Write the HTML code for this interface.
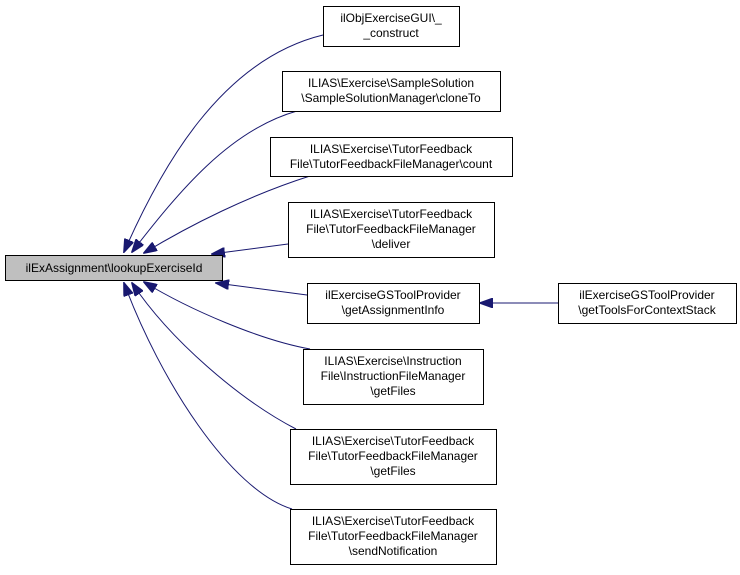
<!DOCTYPE html>
<html><head><meta charset="utf-8"><style>
body{margin:0;background:#fff;}
text{font-family:"Liberation Sans",sans-serif;font-size:12px;fill:#000;}
</style></head><body>
<svg width="740" height="570" viewBox="0 0 740 570" xmlns="http://www.w3.org/2000/svg">
<defs><marker id="a" markerWidth="14" markerHeight="10" refX="1" refY="5" orient="auto" markerUnits="userSpaceOnUse">
<path d="M14,0 L0,5 L14,10 Z" fill="#191970" stroke="#191970"/></marker></defs>
<g fill="none" stroke="#191970" stroke-width="1">
<path d="M124,252 C160,170 220,60 323,35" marker-start="url(#a)"/>
<path d="M132,252 C180,190 230,130 297,111" marker-start="url(#a)"/>
<path d="M144,253 C190,225 250,195 310,176" marker-start="url(#a)"/>
<path d="M212,254 L288,244" marker-start="url(#a)"/>
<path d="M216,283 L307,295" marker-start="url(#a)"/>
<path d="M480,303 L558,303" marker-start="url(#a)"/>
<path d="M144,282 C190,310 260,340 310,349" marker-start="url(#a)"/>
<path d="M132,283 C170,340 240,400 296,429" marker-start="url(#a)"/>
<path d="M124,283 C160,380 230,490 292,509" marker-start="url(#a)"/>
</g>
<g stroke="#000" stroke-width="1" fill="#fff">
<rect x="5.5" y="255.5" width="217" height="25" fill="#bfbfbf"/>
<rect x="323.5" y="6.5" width="136" height="40"/>
<rect x="282.5" y="71.5" width="218" height="40"/>
<rect x="270.5" y="137.5" width="242" height="39"/>
<rect x="288.5" y="202.5" width="206" height="55"/>
<rect x="307.5" y="283.5" width="172" height="40"/>
<rect x="558.5" y="283.5" width="178" height="40"/>
<rect x="303.5" y="349.5" width="180" height="55"/>
<rect x="290.5" y="429.5" width="206" height="55"/>
<rect x="290.5" y="509.5" width="206" height="55"/>
</g>
<g text-anchor="middle">
<text x="114" y="272">ilExAssignment\lookupExerciseId</text>
<text x="391" y="22">ilObjExerciseGUI\_</text><text x="391" y="37">_construct</text>
<text x="391" y="87">ILIAS\Exercise\SampleSolution</text><text x="391" y="102">\SampleSolutionManager\cloneTo</text>
<text x="391" y="153">ILIAS\Exercise\TutorFeedback</text><text x="391" y="168">File\TutorFeedbackFileManager\count</text>
<text x="391" y="218">ILIAS\Exercise\TutorFeedback</text><text x="391" y="233">File\TutorFeedbackFileManager</text><text x="391" y="248">\deliver</text>
<text x="393" y="299">ilExerciseGSToolProvider</text><text x="393" y="314">\getAssignmentInfo</text>
<text x="647" y="299">ilExerciseGSToolProvider</text><text x="647" y="314">\getToolsForContextStack</text>
<text x="393" y="365">ILIAS\Exercise\Instruction</text><text x="393" y="380">File\InstructionFileManager</text><text x="393" y="395">\getFiles</text>
<text x="393" y="445">ILIAS\Exercise\TutorFeedback</text><text x="393" y="460">File\TutorFeedbackFileManager</text><text x="393" y="475">\getFiles</text>
<text x="393" y="525">ILIAS\Exercise\TutorFeedback</text><text x="393" y="540">File\TutorFeedbackFileManager</text><text x="393" y="555">\sendNotification</text>
</g>
</svg>
</body></html>
